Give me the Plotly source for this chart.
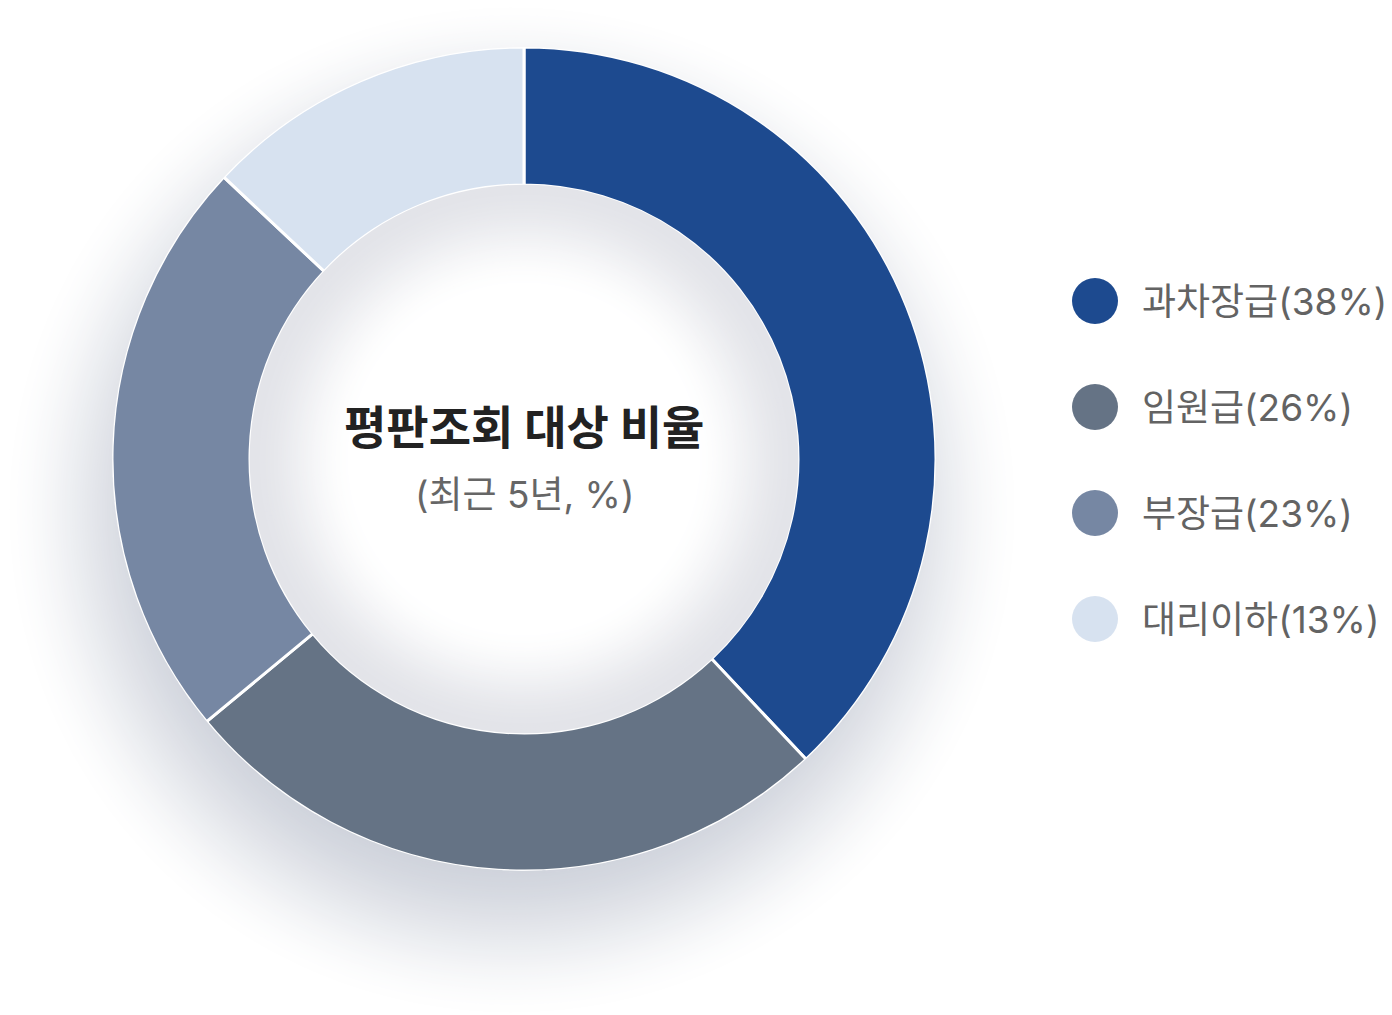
import math
import plotly.graph_objects as go

# ---- data ----
categories = ["과차장급", "임원급", "부장급", "대리이하"]
shares = [38, 26, 23, 13]
colors = ["#1d4a8f", "#657385", "#7687a3", "#d7e2f0"]
title_text = "평판조회 대상 비율"
subtitle_text = "(최근 5년, %)"

W, H = 1392, 1015
FONT = "Inter, 'Noto Sans CJK KR', sans-serif"

# pie geometry (pixels)
CX, CY, R_OUT, R_IN = 524, 459, 412, 274


def px(x):
    return x / W


def py(y):
    return 1 - y / H


def smooth_fade(t):
    t = min(max(t, 0.0), 1.0)
    return 1.0 - (3 * t * t - 2 * t * t * t)


def shade(dark, f):
    r, g, b = (round(255 - d * f) for d in dark)
    return f"rgb({r},{g},{b})"


fig = go.Figure()

fig.add_trace(go.Pie(
    labels=categories,
    values=shares,
    sort=False,
    direction="clockwise",
    rotation=0,
    hole=R_IN / R_OUT,
    marker=dict(colors=colors, line=dict(color="white", width=3)),
    textinfo="none",
    hoverinfo="label+percent",
    showlegend=False,
    domain=dict(x=[px(CX - R_OUT), px(CX + R_OUT)], y=[py(CY + R_OUT), py(CY - R_OUT)]),
))

# legend built as a scatter on an overlay axis (one row per category)
idx = list(range(len(categories)))
fig.add_trace(go.Scatter(
    x=[0] * len(categories),
    y=idx,
    mode="markers",
    marker=dict(size=46, color=colors, line=dict(width=0)),
    hoverinfo="skip",
    showlegend=False,
    xaxis="x", yaxis="y",
))

LEG_X, LEG_Y0, LEG_STEP = 1095, 301, 106
fig.update_layout(
    xaxis=dict(range=[-LEG_X, W - LEG_X], domain=[0, 1], visible=False, fixedrange=True),
    yaxis=dict(range=[(H - LEG_Y0) / LEG_STEP, -LEG_Y0 / LEG_STEP], domain=[0, 1],
               visible=False, fixedrange=True),
)

annotations = []
for i, (c, v) in enumerate(zip(categories, shares)):
    annotations.append(dict(
        x=0, y=i, xref="x", yref="y", xshift=45, xanchor="left", yanchor="middle",
        text=f"{c}({v}%)", showarrow=False,
        font=dict(family=FONT, size=37, color="#636363"),
    ))

annotations.append(dict(
    x=px(CX), y=py(427), xref="paper", yref="paper", xanchor="center", yanchor="middle",
    text=f"<b>{title_text}</b>", showarrow=False,
    font=dict(family=FONT, size=46, color="#222222"),
))
annotations.append(dict(
    x=px(CX), y=py(495), xref="paper", yref="paper", xanchor="center", yanchor="middle",
    text=subtitle_text, showarrow=False,
    font=dict(family=FONT, size=37, color="#666666"),
))

# ---- decorative shadows (opaque discs with pre-blended colours) ----
shapes = []
SCX, SCY, SR0, SR1 = 512, 510, 335, 515
OUT_DARK = (50, 46, 37)          # darkness at full strength (white minus colour)


def outer_f(x, y):
    d = math.hypot(x - SCX, y - SCY)
    return smooth_fade((d - SR0) / (SR1 - SR0))


r = SR1
while r > 350:
    f = smooth_fade((r - SR0) / (SR1 - SR0))
    shapes.append(dict(
        type="circle", xref="paper", yref="paper", layer="below",
        x0=px(SCX - r), x1=px(SCX + r), y0=py(SCY + r), y1=py(SCY - r),
        fillcolor=shade(OUT_DARK, f), line=dict(width=0),
    ))
    r -= 2.5

# cover the outer half of the slice outline with the local shadow tone
NSEG = 120
RE = R_OUT + 1.1
for k in range(NSEG):
    a0 = 2 * math.pi * k / NSEG
    a1 = 2 * math.pi * (k + 1.15) / NSEG
    am = (a0 + a1) / 2
    x0, y0 = CX + RE * math.cos(a0), CY + RE * math.sin(a0)
    x1, y1 = CX + RE * math.cos(a1), CY + RE * math.sin(a1)
    f = outer_f(CX + (R_OUT + 2) * math.cos(am), CY + (R_OUT + 2) * math.sin(am))
    shapes.append(dict(
        type="path", xref="paper", yref="paper", layer="above",
        path=f"M {px(x0):.6f} {py(y0):.6f} L {px(x1):.6f} {py(y1):.6f}",
        line=dict(width=2.4, color=shade(OUT_DARK, f)),
    ))

# inner shadow inside the hole (drawn above so it hides the inner outline)
IN_DARK = (28, 27, 22)
IN_SPAN = 105
x_in = 0.0
while x_in <= IN_SPAN + 2:
    rr = R_IN + 0.3 - x_in
    f = smooth_fade(x_in / IN_SPAN)
    shapes.append(dict(
        type="circle", xref="paper", yref="paper", layer="above",
        x0=px(CX - rr), x1=px(CX + rr), y0=py(CY + rr), y1=py(CY - rr),
        fillcolor=shade(IN_DARK, f), line=dict(width=0),
    ))
    x_in += 2.0

fig.update_layout(
    width=W, height=H,
    margin=dict(l=0, r=0, t=0, b=0),
    paper_bgcolor="white",
    plot_bgcolor="rgba(0,0,0,0)",
    annotations=annotations,
    shapes=shapes,
    font=dict(family=FONT),
)

fig.write_html("out.html", config={"displayModeBar": False},
               post_script="document.body.style.margin='0';")
